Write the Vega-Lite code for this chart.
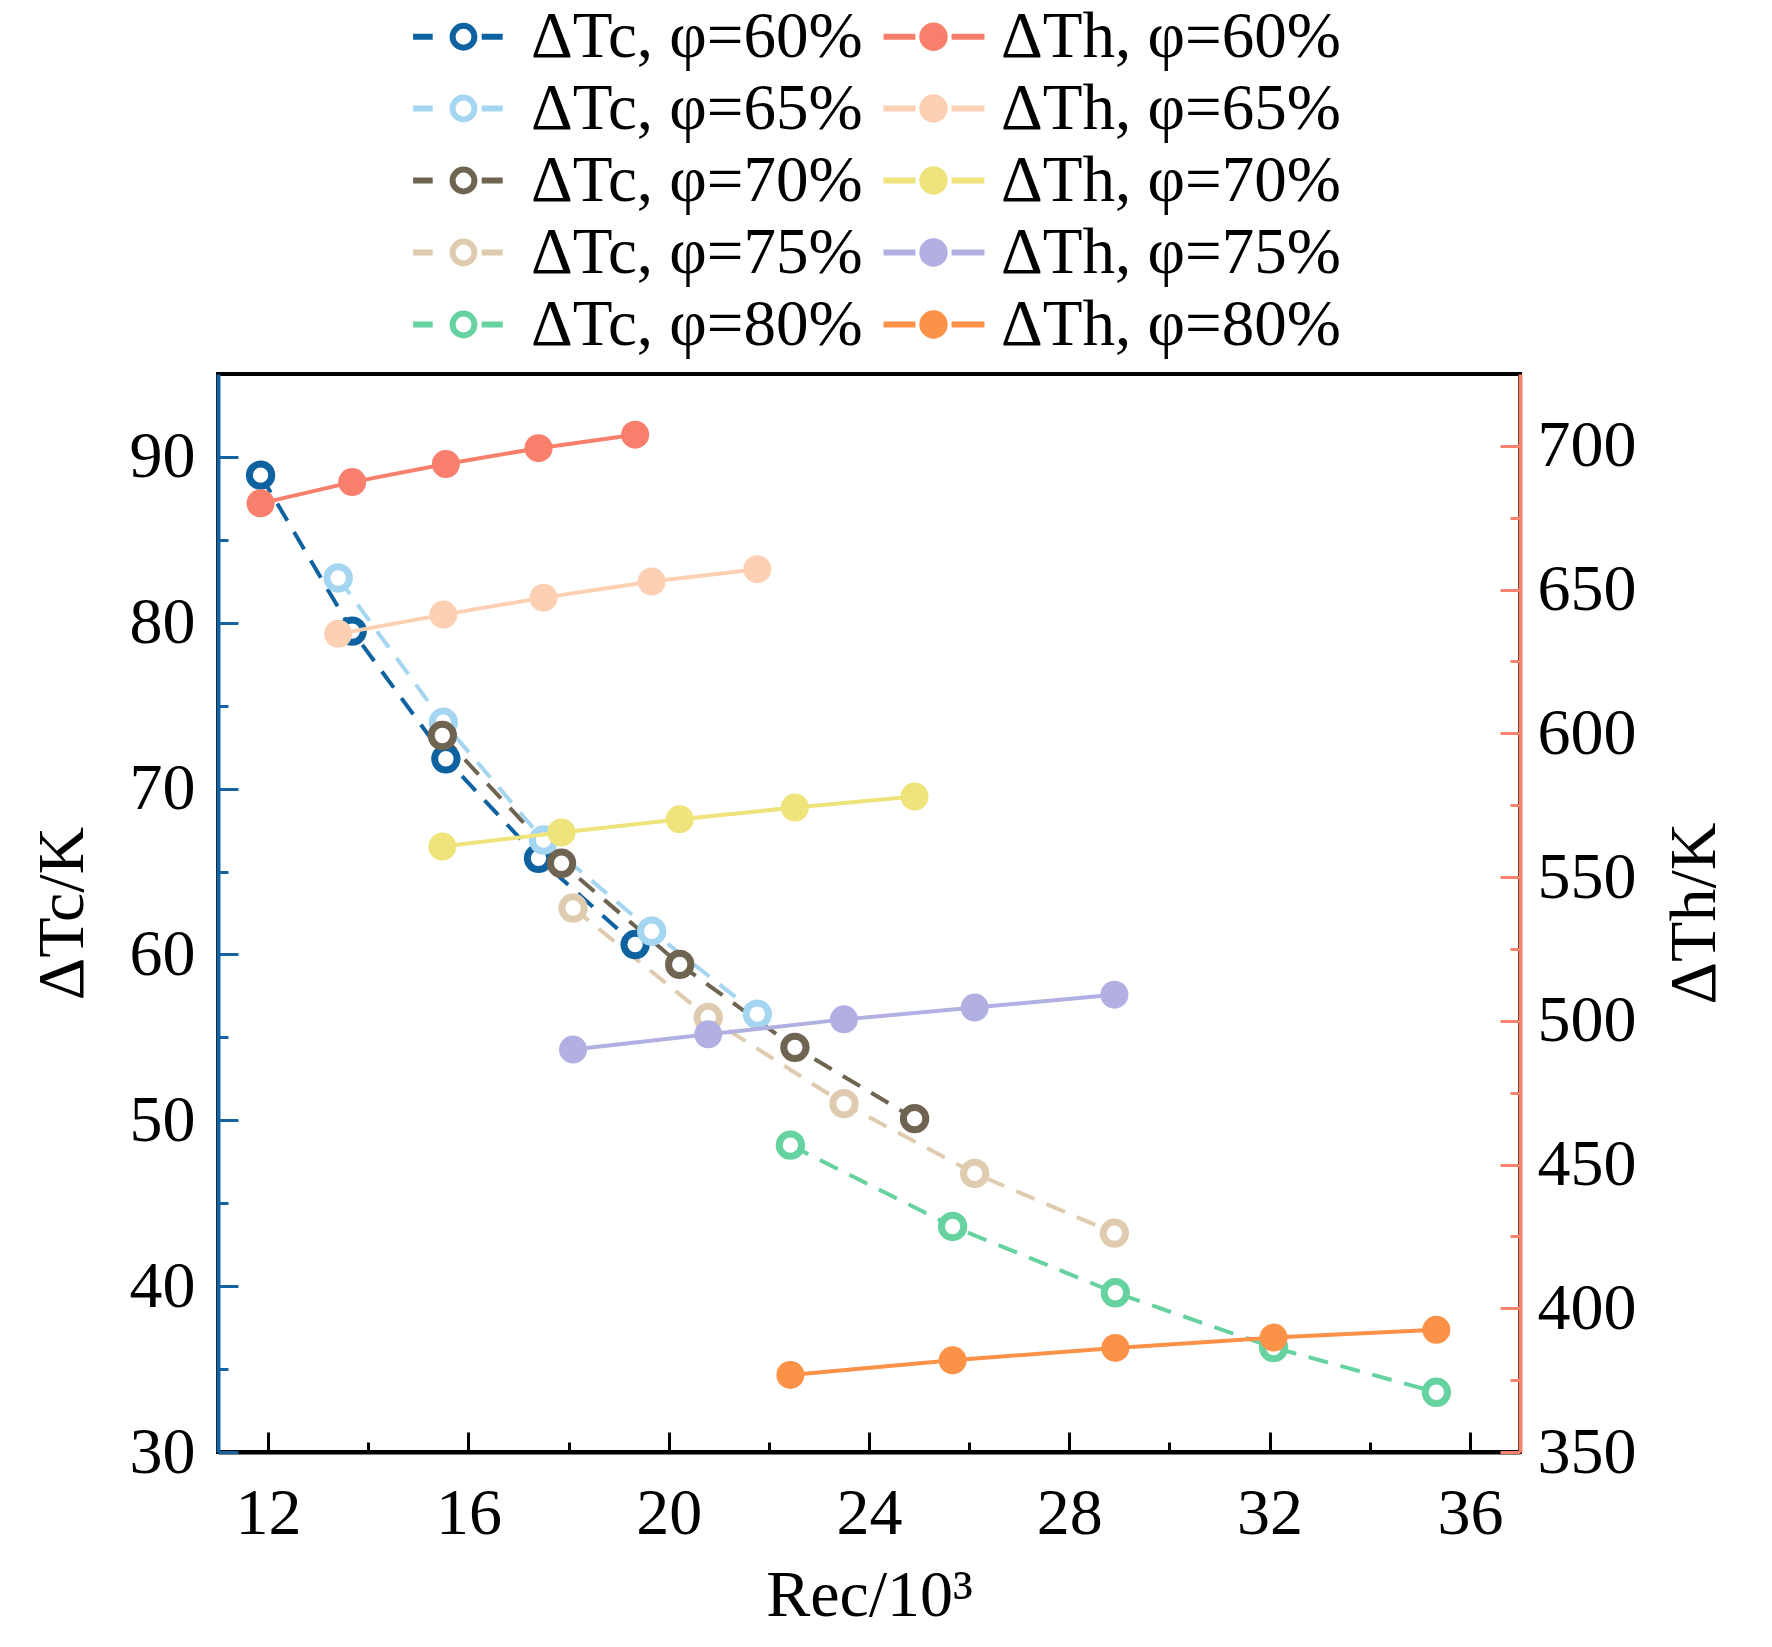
{
  "$schema": "https://vega.github.io/schema/vega-lite/v6.json",
  "width": 1302,
  "height": 1078,
  "autosize": {"type": "none"},
  "padding": {"left": 218, "top": 374, "right": 252, "bottom": 195},
  "background": "white",
  "config": {
    "font": "Liberation Serif",
    "view": {"stroke": "black", "strokeWidth": 4},
    "axis": {
      "labelFont": "Liberation Serif",
      "labelFontSize": 66,
      "labelColor": "black",
      "titleFont": "Liberation Serif",
      "titleFontSize": 66,
      "titleFontWeight": "normal",
      "titleColor": "black",
      "grid": false,
      "domainWidth": 4,
      "tickWidth": 3,
      "labelOverlap": false,
      "labelFlush": false
    }
  },
  "datasets": {
    "pts": [
      {"s": "ΔTc, φ=60%", "k": "c", "Re": 11.85, "T": 88.9},
      {"s": "ΔTc, φ=60%", "k": "c", "Re": 13.68, "T": 79.5},
      {"s": "ΔTc, φ=60%", "k": "c", "Re": 15.55, "T": 71.8},
      {"s": "ΔTc, φ=60%", "k": "c", "Re": 17.4, "T": 65.8},
      {"s": "ΔTc, φ=60%", "k": "c", "Re": 19.33, "T": 60.6},
      {"s": "ΔTc, φ=65%", "k": "c", "Re": 13.4, "T": 82.7},
      {"s": "ΔTc, φ=65%", "k": "c", "Re": 15.5, "T": 74.0},
      {"s": "ΔTc, φ=65%", "k": "c", "Re": 17.5, "T": 66.9},
      {"s": "ΔTc, φ=65%", "k": "c", "Re": 19.66, "T": 61.4},
      {"s": "ΔTc, φ=65%", "k": "c", "Re": 21.77, "T": 56.4},
      {"s": "ΔTc, φ=70%", "k": "c", "Re": 15.48, "T": 73.2},
      {"s": "ΔTc, φ=70%", "k": "c", "Re": 17.86, "T": 65.5},
      {"s": "ΔTc, φ=70%", "k": "c", "Re": 20.22, "T": 59.4},
      {"s": "ΔTc, φ=70%", "k": "c", "Re": 22.52, "T": 54.4},
      {"s": "ΔTc, φ=70%", "k": "c", "Re": 24.91, "T": 50.1},
      {"s": "ΔTc, φ=75%", "k": "c", "Re": 18.09, "T": 62.8},
      {"s": "ΔTc, φ=75%", "k": "c", "Re": 20.79, "T": 56.2},
      {"s": "ΔTc, φ=75%", "k": "c", "Re": 23.5, "T": 51.0},
      {"s": "ΔTc, φ=75%", "k": "c", "Re": 26.11, "T": 46.8},
      {"s": "ΔTc, φ=75%", "k": "c", "Re": 28.9, "T": 43.2},
      {"s": "ΔTc, φ=80%", "k": "c", "Re": 22.43, "T": 48.5},
      {"s": "ΔTc, φ=80%", "k": "c", "Re": 25.67, "T": 43.6},
      {"s": "ΔTc, φ=80%", "k": "c", "Re": 28.92, "T": 39.6},
      {"s": "ΔTc, φ=80%", "k": "c", "Re": 32.08, "T": 36.3},
      {"s": "ΔTc, φ=80%", "k": "c", "Re": 35.33, "T": 33.6},
      {"s": "ΔTh, φ=60%", "k": "h", "Re": 11.85, "T": 680.0},
      {"s": "ΔTh, φ=60%", "k": "h", "Re": 13.68, "T": 687.4},
      {"s": "ΔTh, φ=60%", "k": "h", "Re": 15.55, "T": 693.7},
      {"s": "ΔTh, φ=60%", "k": "h", "Re": 17.4, "T": 699.2},
      {"s": "ΔTh, φ=60%", "k": "h", "Re": 19.33, "T": 703.9},
      {"s": "ΔTh, φ=65%", "k": "h", "Re": 13.4, "T": 634.6},
      {"s": "ΔTh, φ=65%", "k": "h", "Re": 15.5, "T": 641.3},
      {"s": "ΔTh, φ=65%", "k": "h", "Re": 17.5, "T": 647.2},
      {"s": "ΔTh, φ=65%", "k": "h", "Re": 19.66, "T": 652.8},
      {"s": "ΔTh, φ=65%", "k": "h", "Re": 21.77, "T": 657.1},
      {"s": "ΔTh, φ=70%", "k": "h", "Re": 15.48, "T": 560.6},
      {"s": "ΔTh, φ=70%", "k": "h", "Re": 17.86, "T": 565.5},
      {"s": "ΔTh, φ=70%", "k": "h", "Re": 20.22, "T": 570.1},
      {"s": "ΔTh, φ=70%", "k": "h", "Re": 22.52, "T": 574.2},
      {"s": "ΔTh, φ=70%", "k": "h", "Re": 24.91, "T": 578.0},
      {"s": "ΔTh, φ=75%", "k": "h", "Re": 18.09, "T": 490.0},
      {"s": "ΔTh, φ=75%", "k": "h", "Re": 20.79, "T": 495.3},
      {"s": "ΔTh, φ=75%", "k": "h", "Re": 23.5, "T": 500.5},
      {"s": "ΔTh, φ=75%", "k": "h", "Re": 26.11, "T": 504.6},
      {"s": "ΔTh, φ=75%", "k": "h", "Re": 28.9, "T": 509.1},
      {"s": "ΔTh, φ=80%", "k": "h", "Re": 22.43, "T": 376.8},
      {"s": "ΔTh, φ=80%", "k": "h", "Re": 25.67, "T": 381.9},
      {"s": "ΔTh, φ=80%", "k": "h", "Re": 28.92, "T": 386.2},
      {"s": "ΔTh, φ=80%", "k": "h", "Re": 32.08, "T": 389.8},
      {"s": "ΔTh, φ=80%", "k": "h", "Re": 35.33, "T": 392.5}
    ]
  },
  "data": {"name": "pts"},
  "encoding": {
    "x": {
      "field": "Re",
      "type": "quantitative",
      "scale": {"domain": [11, 37], "nice": false, "zero": false},
      "axis": {
        "title": "Rec/10³",
        "values": [12, 14, 16, 18, 20, 22, 24, 26, 28, 30, 32, 34, 36],
        "labelExpr": "datum.value % 4 === 0 ? datum.label : ''",
        "tickSize": {"condition": {"test": "datum.value % 4 === 0", "value": -20}, "value": -10},
        "domainColor": "black",
        "tickColor": "black",
        "labelPadding": 49,
        "titlePadding": 7
      }
    }
  },
  "layer": [
    {
      "transform": [{"filter": "datum.k === 'c'"}],
      "encoding": {
        "y": {
          "field": "T",
          "type": "quantitative",
          "scale": {"domain": [30, 95], "nice": false, "zero": false},
          "axis": {
            "orient": "left",
            "title": "ΔTc/K",
            "values": [30, 35, 40, 45, 50, 55, 60, 65, 70, 75, 80, 85, 90],
            "labelExpr": "datum.value % 10 === 0 ? datum.label : ''",
            "tickSize": {"condition": {"test": "datum.value % 10 === 0", "value": -20}, "value": -10},
            "domainColor": "#15629f",
            "tickColor": "#15629f",
            "labelPadding": 43,
            "titlePadding": 33
          }
        }
      },
      "layer": [
        {
          "mark": {"type": "line", "strokeDash": [20, 13], "strokeWidth": 4},
          "encoding": {
            "color": {
              "field": "s",
              "type": "nominal",
              "legend": null,
              "scale": {
                "domain": ["ΔTh, φ=60%", "ΔTh, φ=65%", "ΔTh, φ=70%", "ΔTh, φ=75%", "ΔTh, φ=80%", "ΔTc, φ=60%", "ΔTc, φ=65%", "ΔTc, φ=70%", "ΔTc, φ=75%", "ΔTc, φ=80%"],
                "range": ["#f77f6b", "#fdd0b3", "#efe37b", "#b2b0e2", "#fc9148", "#0f62a0", "#a4d5f1", "#6f6451", "#dfcbb0", "#66d2a0"]
              }
            }
          }
        },
        {
          "mark": {"type": "point", "shape": "circle", "size": 500, "strokeWidth": 7, "opacity": 1, "filled": false, "fill": "white"},
          "encoding": {"color": {"field": "s", "type": "nominal", "legend": null}}
        }
      ]
    },
    {
      "transform": [{"filter": "datum.k === 'h'"}],
      "encoding": {
        "y": {
          "field": "T",
          "type": "quantitative",
          "scale": {"domain": [350, 725], "nice": false, "zero": false},
          "axis": {
            "orient": "right",
            "title": "ΔTh/K",
            "titleAngle": -90,
            "values": [350, 375, 400, 425, 450, 475, 500, 525, 550, 575, 600, 625, 650, 675, 700],
            "labelExpr": "datum.value % 50 === 0 ? datum.label : ''",
            "tickSize": {"condition": {"test": "datum.value % 50 === 0", "value": -20}, "value": -10},
            "domainColor": "#f7836f",
            "tickColor": "#f7836f",
            "labelPadding": 37,
            "titlePadding": 92
          }
        }
      },
      "layer": [
        {
          "mark": {"type": "line", "strokeWidth": 4},
          "encoding": {"color": {"field": "s", "type": "nominal", "legend": null}}
        },
        {
          "mark": {"type": "point", "shape": "circle", "size": 784, "strokeWidth": 0, "opacity": 1, "filled": true},
          "encoding": {"color": {"field": "s", "type": "nominal", "legend": null}}
        }
      ]
    },
    {
      "transform": [{"filter": "false"}],
      "mark": {"type": "point", "size": 784, "strokeWidth": 6, "opacity": 1, "filled": false},
      "encoding": {
        "stroke": {
          "field": "s",
          "type": "nominal",
          "scale": {
            "domain": ["ΔTc, φ=60%", "ΔTc, φ=65%", "ΔTc, φ=70%", "ΔTc, φ=75%", "ΔTc, φ=80%", "ΔTh, φ=60%", "ΔTh, φ=65%", "ΔTh, φ=70%", "ΔTh, φ=75%", "ΔTh, φ=80%"],
            "range": ["#0f62a0", "#a4d5f1", "#6f6451", "#dfcbb0", "#66d2a0", "#f77f6b", "#fdd0b3", "#efe37b", "#b2b0e2", "#fc9148"]
          },
          "legend": {"title": null, "orient": "none", "legendX": 213, "legendY": -370, "columns": 2, "columnPadding": 8, "rowPadding": 6, "labelFont": "Liberation Serif", "labelFontSize": 65, "labelColor": "black", "labelLimit": 0, "labelOffset": 35, "symbolSize": 784, "symbolStrokeWidth": 6, "symbolFillColor": "white", "symbolStrokeColor": "black", "padding": 0}
        },
        "fill": {
          "field": "s",
          "type": "nominal",
          "scale": {
            "domain": ["ΔTc, φ=60%", "ΔTc, φ=65%", "ΔTc, φ=70%", "ΔTc, φ=75%", "ΔTc, φ=80%", "ΔTh, φ=60%", "ΔTh, φ=65%", "ΔTh, φ=70%", "ΔTh, φ=75%", "ΔTh, φ=80%"],
            "range": ["white", "white", "white", "white", "white", "#f77f6b", "#fdd0b3", "#efe37b", "#b2b0e2", "#fc9148"]
          },
          "legend": {"title": null, "orient": "none", "legendX": 213, "legendY": -370, "columns": 2, "columnPadding": 8, "rowPadding": 6, "labelFont": "Liberation Serif", "labelFontSize": 65, "labelColor": "black", "labelLimit": 0, "labelOffset": 35, "symbolSize": 784, "symbolStrokeWidth": 6, "symbolFillColor": "white", "symbolStrokeColor": "black", "padding": 0}
        },
        "shape": {
          "field": "s",
          "type": "nominal",
          "scale": {
            "domain": ["ΔTc, φ=60%", "ΔTc, φ=65%", "ΔTc, φ=70%", "ΔTc, φ=75%", "ΔTc, φ=80%", "ΔTh, φ=60%", "ΔTh, φ=65%", "ΔTh, φ=70%", "ΔTh, φ=75%", "ΔTh, φ=80%"],
            "range": [
              "M-3.6,0H-2.2M1.3,0H2.8M0.78,0A0.78,0.78,0,1,1,-0.78,0A0.78,0.78,0,1,1,0.78,0Z",
              "M-3.6,0H-2.2M1.3,0H2.8M0.78,0A0.78,0.78,0,1,1,-0.78,0A0.78,0.78,0,1,1,0.78,0Z",
              "M-3.6,0H-2.2M1.3,0H2.8M0.78,0A0.78,0.78,0,1,1,-0.78,0A0.78,0.78,0,1,1,0.78,0Z",
              "M-3.6,0H-2.2M1.3,0H2.8M0.78,0A0.78,0.78,0,1,1,-0.78,0A0.78,0.78,0,1,1,0.78,0Z",
              "M-3.6,0H-2.2M1.3,0H2.8M0.78,0A0.78,0.78,0,1,1,-0.78,0A0.78,0.78,0,1,1,0.78,0Z",
              "M-3.57,0H-1.29M1.29,0H3.64M0.8,0A0.8,0.8,0,1,1,-0.8,0A0.8,0.8,0,1,1,0.8,0Z",
              "M-3.57,0H-1.29M1.29,0H3.64M0.8,0A0.8,0.8,0,1,1,-0.8,0A0.8,0.8,0,1,1,0.8,0Z",
              "M-3.57,0H-1.29M1.29,0H3.64M0.8,0A0.8,0.8,0,1,1,-0.8,0A0.8,0.8,0,1,1,0.8,0Z",
              "M-3.57,0H-1.29M1.29,0H3.64M0.8,0A0.8,0.8,0,1,1,-0.8,0A0.8,0.8,0,1,1,0.8,0Z",
              "M-3.57,0H-1.29M1.29,0H3.64M0.8,0A0.8,0.8,0,1,1,-0.8,0A0.8,0.8,0,1,1,0.8,0Z"
            ]
          },
          "legend": {"title": null, "orient": "none", "legendX": 213, "legendY": -370, "columns": 2, "columnPadding": 8, "rowPadding": 6, "labelFont": "Liberation Serif", "labelFontSize": 65, "labelColor": "black", "labelLimit": 0, "labelOffset": 35, "symbolSize": 784, "symbolStrokeWidth": 6, "symbolFillColor": "white", "symbolStrokeColor": "black", "padding": 0}
        }
      }
    }
  ],
  "resolve": {"scale": {"y": "independent"}}
}
